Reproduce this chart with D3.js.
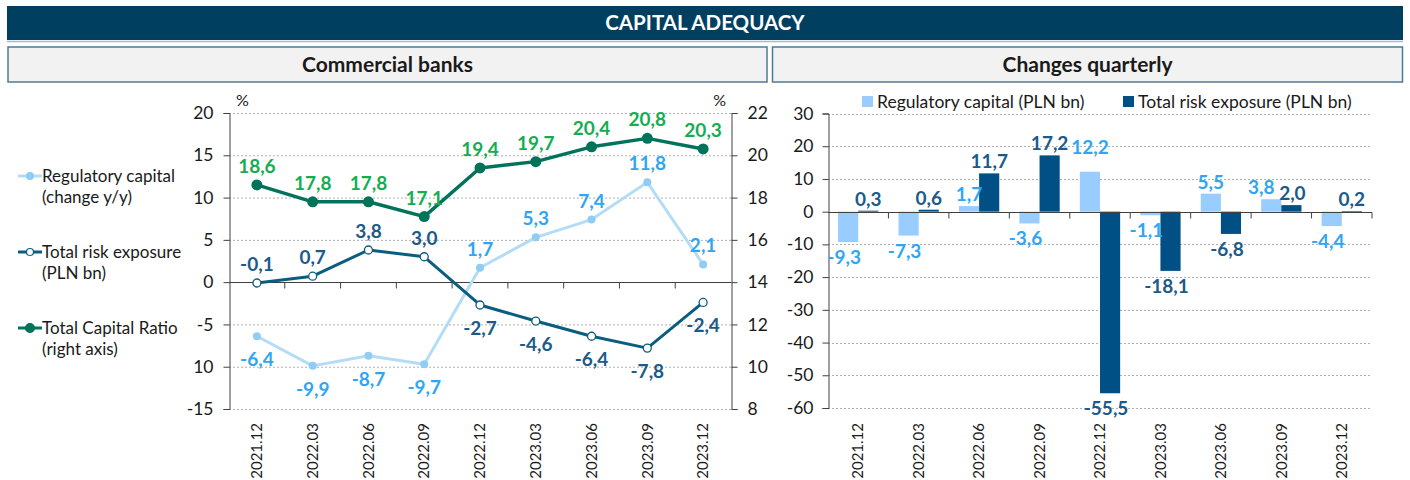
<!DOCTYPE html>
<html>
<head>
<meta charset="utf-8">
<script src="https://cdn.jsdelivr.net/npm/d3@7"></script>
<style>
  body { margin: 0; background: #fff; }
  svg { font-family: Lato, "Open Sans", sans-serif; }
</style>
</head>
<body>
<div id="chart"></div>
<script>
// quarters on both charts
const quarters = ["2021.12", "2022.03", "2022.06", "2022.09", "2022.12", "2023.03", "2023.06", "2023.09", "2023.12"];

// left chart: commercial banks (y/y, %)
const regCapYoY = [-6.4, -9.9, -8.7, -9.7, 1.7, 5.3, 7.4, 11.8, 2.1];
const riskExpYoY = [-0.1, 0.7, 3.8, 3.0, -2.7, -4.6, -6.4, -7.8, -2.4];
const totalCapRatio = [18.6, 17.8, 17.8, 17.1, 19.4, 19.7, 20.4, 20.8, 20.3];

// right chart: quarterly changes (PLN bn)
const regCapQ = [-9.3, -7.3, 1.7, -3.6, 12.2, -1.1, 5.5, 3.8, -4.4];
const riskExpQ = [0.3, 0.6, 11.7, 17.2, -55.5, -18.1, -6.8, 2.0, 0.2];

// axis ticks
const leftTicks = [20, 15, 10, 5, 0, -5, -10, -15];
const leftTickLabels = ["20", "15", "10", "5", "0", "-5", "10", "-15"];
const rightTicks = [22, 20, 18, 16, 14, 12, 10, 8];
const barTicks = [30, 20, 10, 0, -10, -20, -30, -40, -50, -60];

const locale = d3.formatLocale({ decimal: ",", thousands: " ", grouping: [3], currency: ["", ""], minus: "-" });
const fmt = locale.format(".1f");
const fmtInt = locale.format("d");

const C = {
  header: "#003f5f",
  boxFill: "#f2f2f2",
  boxStroke: "#4f7a95",
  regLine: "#b5dcf7",
  regDot: "#8fcdf5",
  regText: "#2fa6f3",
  riskLine: "#0b5d7f",
  riskText: "#1b5a8a",
  tcrLine: "#00735a",
  tcrText: "#14ad52",
  barLight: "#99ccff",
  barDark: "#005086",
  grid: "#b0b0b0",
  axis: "#404040",
  text: "#1a1a1a"
};

const svg = d3.select("#chart").append("svg")
  .attr("width", 1410)
  .attr("height", 480);

// ---- headers ----
svg.append("rect").attr("x", 7).attr("y", 6).attr("width", 1396).attr("height", 34).attr("fill", C.header);
svg.append("line").attr("x1", 7).attr("x2", 1403).attr("y1", 41.5).attr("y2", 41.5)
  .attr("stroke", "#a9bccb").attr("stroke-width", 1.5);
svg.append("text").attr("x", 705).attr("y", 30).attr("text-anchor", "middle")
  .attr("fill", "#fff").attr("font-weight", "bold").attr("font-size", 20.5).text("CAPITAL ADEQUACY");

const boxes = [
  { x: 8, w: 759, title: "Commercial banks" },
  { x: 772.5, w: 630, title: "Changes quarterly" }
];
svg.selectAll(".box").data(boxes).join("rect")
  .attr("x", d => d.x).attr("y", 47).attr("width", d => d.w).attr("height", 35)
  .attr("fill", C.boxFill).attr("stroke", C.boxStroke).attr("stroke-width", 1.5);
svg.selectAll(".boxTitle").data(boxes).join("text")
  .attr("x", d => d.x + d.w / 2).attr("y", 72).attr("text-anchor", "middle")
  .attr("font-weight", "bold").attr("font-size", 21).attr("fill", C.text)
  .text(d => d.title);

// ---- left chart ----
const xL = d3.scaleBand().domain(quarters).range([229, 731]);
const yL = d3.scaleLinear().domain([-15, 20]).range([409, 113]);
const yR = d3.scaleLinear().domain([8, 22]).range([409, 113]);
const cx = d => xL(d) + xL.bandwidth() / 2;

const gL = svg.append("g");

// gridlines
gL.selectAll(".grid").data(leftTicks.filter(t => t !== 0)).join("line")
  .attr("x1", 229).attr("x2", 731)
  .attr("y1", d => yL(d) + 0.5).attr("y2", d => yL(d) + 0.5)
  .attr("stroke", C.grid).attr("stroke-dasharray", "2,2");

// left axis
const axL = gL.append("g").attr("transform", "translate(229.5,0)")
  .call(d3.axisLeft(yL).tickValues(leftTicks).tickSize(6).tickPadding(10)
    .tickFormat((d, i) => leftTickLabels[i]));
// right axis
const axR = gL.append("g").attr("transform", "translate(731.5,0)")
  .call(d3.axisRight(yR).tickValues(rightTicks).tickSize(6).tickPadding(10).tickFormat(fmtInt));
[axL, axR].forEach(a => {
  a.select(".domain").attr("stroke", C.axis);
  a.selectAll(".tick line").attr("stroke", C.axis);
  a.selectAll(".tick text").attr("font-size", 17.5).attr("fill", C.text).attr("font-family", "Lato, sans-serif");
});

// zero line with category ticks
const y0 = Math.round(yL(0)) + 0.5;
gL.append("line").attr("x1", 229).attr("x2", 731).attr("y1", y0).attr("y2", y0).attr("stroke", C.axis);
gL.selectAll(".ctick").data(quarters.slice(1)).join("line")
  .attr("x1", d => xL(d)).attr("x2", d => xL(d)).attr("y1", y0).attr("y2", y0 + 6)
  .attr("stroke", C.axis);

// category labels
gL.selectAll(".cat").data(quarters).join("text")
  .attr("transform", d => `translate(${cx(d)},423) rotate(-90)`)
  .attr("dy", "0.35em").attr("text-anchor", "end")
  .attr("font-size", 15).attr("fill", C.text).text(d => d);

// unit labels
gL.append("text").attr("x", 236).attr("y", 106).attr("font-size", 16).attr("fill", C.text).text("%");
gL.append("text").attr("x", 726).attr("y", 106).attr("text-anchor", "end").attr("font-size", 16).attr("fill", C.text).text("%");

function drawLine(values, scale, lineColor, width) {
  const line = d3.line().x((d, i) => cx(quarters[i])).y(d => scale(d));
  gL.append("path").datum(values).attr("d", line)
    .attr("fill", "none").attr("stroke", lineColor).attr("stroke-width", width)
    .attr("stroke-linejoin", "round");
}
drawLine(regCapYoY, yL, C.regLine, 3);
drawLine(riskExpYoY, yL, C.riskLine, 3);
drawLine(totalCapRatio, yR, C.tcrLine, 3.5);

// markers
gL.selectAll(".regDot").data(regCapYoY).join("circle")
  .attr("cx", (d, i) => cx(quarters[i])).attr("cy", d => yL(d)).attr("r", 4)
  .attr("fill", C.regDot);
gL.selectAll(".riskDot").data(riskExpYoY).join("circle")
  .attr("cx", (d, i) => cx(quarters[i])).attr("cy", d => yL(d)).attr("r", 4)
  .attr("fill", "#fff").attr("stroke", C.riskLine).attr("stroke-width", 1.3);
gL.selectAll(".tcrDot").data(totalCapRatio).join("circle")
  .attr("cx", (d, i) => cx(quarters[i])).attr("cy", d => yR(d)).attr("r", 5.5)
  .attr("fill", C.tcrLine);

// data labels
function drawLabels(values, scale, color, above) {
  gL.selectAll(null).data(values).join("text")
    .attr("x", (d, i) => cx(quarters[i]))
    .attr("y", (d, i) => scale(d) + (above(d, i) ? -12 : 30))
    .attr("text-anchor", "middle").attr("font-weight", "bold").attr("font-size", 19)
    .attr("fill", color).text(d => fmt(d));
}
drawLabels(regCapYoY, yL, C.regText, d => d > 0);
drawLabels(riskExpYoY, yL, C.riskText, d => d > -0.5);
drawLabels(totalCapRatio, yR, C.tcrText, () => true);

// left legend
const legend = [
  { lines: ["Regulatory capital", "(change y/y)"], color: C.regLine, dot: C.regDot, fill: C.regDot, r: 3.5, y: 176 },
  { lines: ["Total risk exposure", "(PLN bn)"], color: C.riskLine, dot: C.riskLine, fill: "#fff", r: 3.5, y: 252 },
  { lines: ["Total Capital Ratio", "(right axis)"], color: C.tcrLine, dot: C.tcrLine, fill: C.tcrLine, r: 4.5, y: 328 }
];
const lg = svg.append("g").selectAll("g").data(legend).join("g");
lg.append("line").attr("x1", 18).attr("x2", 42).attr("y1", d => d.y).attr("y2", d => d.y)
  .attr("stroke", d => d.color).attr("stroke-width", 3);
lg.append("circle").attr("cx", 30).attr("cy", d => d.y).attr("r", d => d.r)
  .attr("fill", d => d.fill).attr("stroke", d => d.dot).attr("stroke-width", 1.2);
lg.append("text").attr("x", 42).attr("y", d => d.y + 6)
  .attr("font-size", 17).attr("fill", C.text)
  .selectAll("tspan").data(d => d.lines).join("tspan")
  .attr("x", 42).attr("dy", (d, i) => i === 0 ? 0 : 21).text(d => d);

// ---- right chart ----
const xB = d3.scaleBand().domain(quarters).range([828, 1372]);
const yB = d3.scaleLinear().domain([-60, 30]).range([408, 113.5]);
const bw = xB.bandwidth();
const xSub = d3.scaleBand().domain(["reg", "risk"]).range([bw / 6, bw * 5 / 6]);

const gB = svg.append("g");
gB.selectAll(".grid").data(barTicks.filter(t => t !== 0)).join("line")
  .attr("x1", 828).attr("x2", 1372)
  .attr("y1", d => Math.round(yB(d)) + 0.5).attr("y2", d => Math.round(yB(d)) + 0.5)
  .attr("stroke", C.grid).attr("stroke-dasharray", "2,2");

const axB = gB.append("g").attr("transform", "translate(828.5,0)")
  .call(d3.axisLeft(yB).tickValues(barTicks).tickSize(6).tickPadding(9).tickFormat(fmtInt));
axB.select(".domain").attr("stroke", C.axis);
axB.selectAll(".tick line").attr("stroke", C.axis);
axB.selectAll(".tick text").attr("font-size", 17.5).attr("fill", C.text).attr("font-family", "Lato, sans-serif");

const series = [
  { key: "reg", values: regCapQ, color: C.barLight, text: C.regText },
  { key: "risk", values: riskExpQ, color: C.barDark, text: C.riskText }
];
const bars = series.flatMap(s => s.values.map((v, i) => ({ key: s.key, q: quarters[i], v, i, color: s.color, text: s.text })));

gB.selectAll(".bar").data(bars).join("rect")
  .attr("x", d => xB(d.q) + xSub(d.key))
  .attr("width", xSub.bandwidth())
  .attr("y", d => yB(Math.max(0, d.v)))
  .attr("height", d => Math.abs(yB(d.v) - yB(0)))
  .attr("fill", d => d.color);

const yb0 = Math.round(yB(0)) + 0.5;
gB.append("line").attr("x1", 828).attr("x2", 1372).attr("y1", yb0).attr("y2", yb0).attr("stroke", C.axis);
gB.selectAll(".ctick").data(quarters.slice(1).concat(["end"])).join("line")
  .attr("x1", d => d === "end" ? 1372 : xB(d)).attr("x2", d => d === "end" ? 1372 : xB(d))
  .attr("y1", yb0).attr("y2", yb0 + 6).attr("stroke", C.axis);

// when both bars of a quarter are small positives, the labels would collide: nudge the light one left
const crowded = i => regCapQ[i] > 0 && riskExpQ[i] > 0 && Math.abs(yB(regCapQ[i]) - yB(riskExpQ[i])) < 16;

gB.selectAll(".blabel").data(bars).join("text")
  .attr("x", d => {
    let x = xB(d.q) + xSub(d.key) + xSub.bandwidth() / 2;
    if (d.v < 0) x -= 4;
    if (crowded(d.i)) x += d.key === "reg" ? -10 : 1;
    return x;
  })
  .attr("y", d => {
    if (d.v < 0) return yB(d.v) + 22;
    // the 12,2 label sits level with its neighbour 17,2
    if (d.key === "reg" && d.i === 4) return yB(d.v) - 18;
    return yB(d.v) - 5;
  })
  .attr("text-anchor", "middle").attr("font-weight", "bold").attr("font-size", 19)
  .attr("fill", d => d.text).text(d => fmt(d.v));

gB.selectAll(".cat").data(quarters).join("text")
  .attr("transform", d => `translate(${xB(d) + bw / 2},423) rotate(-90)`)
  .attr("dy", "0.35em").attr("text-anchor", "end")
  .attr("font-size", 15).attr("fill", C.text).text(d => d);

// bar legend
const bLegend = [
  { label: "Regulatory capital (PLN bn)", color: C.barLight, x: 862 },
  { label: "Total risk exposure (PLN bn)", color: C.barDark, x: 1123 }
];
const bl = svg.append("g").selectAll("g").data(bLegend).join("g");
bl.append("rect").attr("x", d => d.x).attr("y", 96).attr("width", 11).attr("height", 11).attr("fill", d => d.color);
bl.append("text").attr("x", d => d.x + 15).attr("y", 108).attr("font-size", 17.5).attr("fill", C.text).text(d => d.label);
</script>
</body>
</html>
